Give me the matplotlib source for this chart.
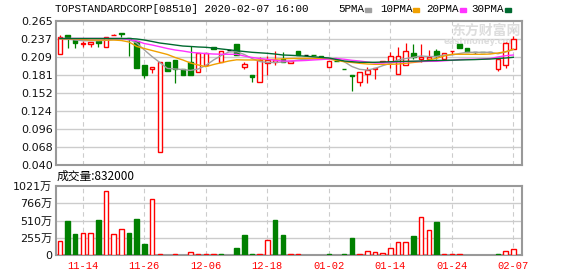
import matplotlib
matplotlib.use("Agg")
import matplotlib.pyplot as plt
from matplotlib.patches import Rectangle

# Trading days shown on the chart
dates = [
    "11-11", "11-12", "11-13", "11-14", "11-15", "11-18", "11-19", "11-20", "11-21", "11-22",
    "11-25", "11-26", "11-27", "11-28", "11-29", "12-02", "12-03", "12-04", "12-05", "12-06",
    "12-09", "12-10", "12-11", "12-12", "12-13", "12-16", "12-17", "12-18", "12-19", "12-20",
    "12-23", "12-24", "12-27", "12-30", "12-31", "01-02", "01-03", "01-06", "01-07", "01-08",
    "01-09", "01-10", "01-13", "01-14", "01-15", "01-16", "01-17", "01-20", "01-21", "01-22",
    "01-23", "01-24", "01-29", "01-30", "01-31", "02-03", "02-04", "02-05", "02-06", "02-07",
]

tick_dates = ["11-14", "11-26", "12-06", "12-18", "01-02", "01-14", "01-24", "02-07"]

opens = [
    0.2130, 0.2431, 0.2353, 0.2294, 0.2295, 0.2342, 0.2239, 0.2427, 0.2463, 0.2377,
    0.2342, 0.1960, 0.1905, 0.0598, 0.2014, 0.2041, 0.1895, 0.2014, 0.1858, 0.1963,
    0.2239, 0.2014, 0.2197, 0.2291, 0.1927, 0.1802, 0.1702, 0.1998, 0.2009, 0.2052,
    0.1989, 0.2181, 0.2119, 0.2122, 0.2103, 0.1931, 0.2028, 0.1903, 0.1806, 0.1702,
    0.1817, 0.1905, 0.2009, 0.2014, 0.1822, 0.1963, 0.2145, 0.2061, 0.2061, 0.2181,
    0.2056, 0.2183, 0.2291, 0.2223, 0.2161, 0.2163, 0.2158, 0.1895, 0.1963, 0.2208,
]

closes = [
    0.2395, 0.2395, 0.2311, 0.2310, 0.2322, 0.2311, 0.2395, 0.2436, 0.2452, 0.2370,
    0.1911, 0.1814, 0.1936, 0.2012, 0.1873, 0.1895, 0.1806, 0.1808, 0.2145, 0.2145,
    0.2217, 0.2186, 0.2197, 0.2119, 0.1978, 0.1780, 0.2041, 0.2041, 0.2041, 0.2009,
    0.2025, 0.2123, 0.2119, 0.2116, 0.2083, 0.2020, 0.2022, 0.1897, 0.1795, 0.1858,
    0.1884, 0.1911, 0.2020, 0.2103, 0.2103, 0.2181, 0.2092, 0.2083, 0.2092, 0.2103,
    0.2145, 0.2186, 0.2233, 0.2161, 0.2161, 0.2158, 0.2158, 0.2052, 0.2302, 0.2364,
]

highs = [
    0.2431, 0.2431, 0.2353, 0.2342, 0.2322, 0.2342, 0.2405, 0.2452, 0.2463, 0.2385,
    0.2342, 0.1960, 0.1936, 0.2012, 0.2014, 0.2041, 0.1895, 0.2259, 0.2145, 0.2145,
    0.2239, 0.2186, 0.2197, 0.2291, 0.2005, 0.1802, 0.2092, 0.2103, 0.2186, 0.2166,
    0.2025, 0.2181, 0.2119, 0.2122, 0.2103, 0.2020, 0.2028, 0.1903, 0.1806, 0.1858,
    0.1936, 0.1911, 0.2020, 0.2161, 0.2239, 0.2302, 0.2291, 0.2291, 0.2197, 0.2208,
    0.2145, 0.2186, 0.2291, 0.2223, 0.2170, 0.2163, 0.2158, 0.2052, 0.2327, 0.2416,
]

lows = [
    0.2130, 0.2233, 0.2233, 0.2236, 0.2248, 0.2239, 0.2239, 0.2427, 0.2405, 0.2108,
    0.1911, 0.1752, 0.1842, 0.0598, 0.1873, 0.1677, 0.1806, 0.1806, 0.1858, 0.1963,
    0.2217, 0.2014, 0.2197, 0.2119, 0.1900, 0.1702, 0.1702, 0.1806, 0.1963, 0.2014,
    0.1989, 0.2123, 0.2119, 0.2116, 0.2083, 0.1931, 0.2022, 0.1897, 0.1561, 0.1639,
    0.1677, 0.1744, 0.2009, 0.1920, 0.1822, 0.1963, 0.2056, 0.2014, 0.2052, 0.2052,
    0.2056, 0.2130, 0.2233, 0.2161, 0.2145, 0.2158, 0.2158, 0.1873, 0.1911, 0.2208,
]

# Moving averages
ma5 = [
    0.2377, 0.2369, 0.2353, 0.2342, 0.2342, 0.2342, 0.2348, 0.2361, 0.2369, 0.2361,
    0.2306, 0.2197, 0.2094, 0.2002, 0.1909, 0.1900, 0.1892, 0.1878, 0.1900, 0.1955,
    0.2041, 0.2111, 0.2166, 0.2170, 0.2127, 0.2064, 0.2017, 0.2002, 0.2002, 0.2009,
    0.2020, 0.2041, 0.2052, 0.2056, 0.2064, 0.2064, 0.2064, 0.2014, 0.1939, 0.1895,
    0.1884, 0.1908, 0.1952, 0.1989, 0.2041, 0.2064, 0.2083, 0.2103, 0.2095, 0.2095,
    0.2119, 0.2119, 0.2142, 0.2161, 0.2161, 0.2161, 0.2161, 0.2138, 0.2166, 0.2205,
]

ma10 = [
    0.2369, 0.2369, 0.2369, 0.2361, 0.2353, 0.2353, 0.2353, 0.2353, 0.2345, 0.2322,
    0.2252, 0.2220, 0.2189, 0.2158, 0.2127, 0.2080, 0.2041, 0.1994, 0.1963, 0.1936,
    0.1970, 0.1998, 0.2025, 0.2044, 0.2041, 0.2041, 0.2041, 0.2048, 0.2053, 0.2059,
    0.2063, 0.2066, 0.2067, 0.2067, 0.2067, 0.2056, 0.2033, 0.2014, 0.2002, 0.1989,
    0.1978, 0.1973, 0.1973, 0.1973, 0.1978, 0.1989, 0.2002, 0.2014, 0.2041, 0.2067,
    0.2103, 0.2130, 0.2130, 0.2130, 0.2130, 0.2130, 0.2134, 0.2150, 0.2170, 0.2208,
]

ma20 = [
    0.2377, 0.2377, 0.2377, 0.2377, 0.2377, 0.2377, 0.2377, 0.2377, 0.2377, 0.2361,
    0.2338, 0.2298, 0.2275, 0.2248, 0.2220, 0.2197, 0.2181, 0.2161, 0.2150, 0.2141,
    0.2134, 0.2131, 0.2130, 0.2130, 0.2103, 0.2080, 0.2064, 0.2052, 0.2036, 0.2025,
    0.2025, 0.2028, 0.2033, 0.2041, 0.2048, 0.2056, 0.2064, 0.2052, 0.2036, 0.2025,
    0.2009, 0.1994, 0.1994, 0.2005, 0.2009, 0.2014, 0.2017, 0.2017, 0.2020, 0.2020,
    0.2028, 0.2036, 0.2048, 0.2052, 0.2052, 0.2056, 0.2064, 0.2088, 0.2108, 0.2119,
]

ma30 = [
    0.2377, 0.2377, 0.2377, 0.2377, 0.2377, 0.2377, 0.2377, 0.2377, 0.2377, 0.2377,
    0.2369, 0.2353, 0.2330, 0.2306, 0.2291, 0.2275, 0.2259, 0.2252, 0.2244, 0.2239,
    0.2228, 0.2213, 0.2200, 0.2186, 0.2173, 0.2161, 0.2153, 0.2145, 0.2134, 0.2119,
    0.2114, 0.2108, 0.2100, 0.2091, 0.2081, 0.2072, 0.2048, 0.2025, 0.2014, 0.2005,
    0.2005, 0.2005, 0.2009, 0.2014, 0.2017, 0.2020, 0.2022, 0.2025, 0.2030, 0.2033,
    0.2036, 0.2038, 0.2041, 0.2044, 0.2047, 0.2052, 0.2056, 0.2064, 0.2072, 0.2083,
]

# Volume in 万 shares, and whether the bar is an "up" (red) bar
volumes = [
    207, 503, 311, 326, 326, 518, 947, 311, 385, 330,
    533, 168, 829, 12, 0, 12, 0, 44, 12, 12,
    12, 12, 0, 104, 296, 12, 12, 222, 518, 296,
    12, 12, 0, 0, 0, 12, 0, 12, 252, 12,
    59, 44, 30, 104, 192, 192, 281, 562, 370, 488,
    12, 12, 12, 0, 0, 0, 0, 12, 59, 83.2,
]

vol_up = [
    1, 0, 0, 1, 1, 0, 1, 1, 1, 0,
    0, 0, 1, 1, 0, 1, 0, 1, 1, 1,
    1, 0, 0, 0, 0, 0, 1, 1, 0, 0,
    1, 1, 0, 0, 0, 0, 0, 0, 0, 1,
    1, 1, 1, 1, 1, 1, 0, 1, 1, 0,
    1, 1, 1, 0, 0, 0, 0, 0, 1, 1,
]

price_ticks = [0.040, 0.068125, 0.09625, 0.124375, 0.1525, 0.180625, 0.20875, 0.236875, 0.265]
price_labels = ["0.040", "0.068", "0.096", "0.124", "0.152", "0.181", "0.209", "0.237", "0.265"]
vol_ticks = [0, 255.25, 510.5, 765.75, 1021]
vol_labels = ["0", "255万", "510万", "766万", "1021万"]

RED = "#ff0000"
GREEN = "#008000"
W, H = 578, 276

fig = plt.figure(figsize=(W / 100, H / 100), dpi=100)
fig.patch.set_facecolor("white")

ax = fig.add_axes([56 / W, 1 - 165 / H, 466 / W, 144 / H])
ax2 = fig.add_axes([56 / W, 1 - 255 / H, 466 / W, 69 / H])

x = list(range(len(dates)))
tick_pos = [dates.index(d) for d in tick_dates]
bw = 0.58

for a in (ax, ax2):
    a.set_xlim(-0.5, 60.13)
    for s in a.spines.values():
        s.set_color("#999999")
        s.set_linewidth(1.5)
    a.set_xticks(tick_pos)
    for p in tick_pos:
        a.axvline(p, color="#cccccc", linestyle=(0, (4, 3)), linewidth=0.8, zorder=0)
    a.tick_params(length=0, pad=2.5, labelsize=8, labelcolor="#111111")

# Price pane
ax.set_ylim(0.040, 0.265)
ax.set_yticks(price_ticks)
ax.set_yticklabels(price_labels)
ax.set_xticklabels([])
for t in price_ticks[1:-1]:
    ax.axhline(t, color="#cccccc", linewidth=1.0, zorder=0)

for i in x:
    o, c, h, l = opens[i], closes[i], highs[i], lows[i]
    top, bot = max(o, c), min(o, c)
    if c > o:
        col = RED
        face = "white"
    elif c < o:
        col = GREEN
        face = GREEN
    else:
        col = "black"
        face = "black"
    if h > top:
        ax.vlines(i, top, h, color=col, linewidth=0.9, zorder=2)
    if l < bot:
        ax.vlines(i, l, bot, color=col, linewidth=0.9, zorder=2)
    if c == o:
        ax.hlines(c, i - bw / 2, i + bw / 2, color=col, linewidth=1.0, zorder=3)
    else:
        ax.bar(i, top - bot, bottom=bot, width=bw, facecolor=face,
               edgecolor=col, linewidth=1.0, zorder=3)

# Moving average lines
ax.plot(x, ma5, color="#a0a0a0", linewidth=1.0, zorder=4)
ax.plot(x, ma10, color="#f0a000", linewidth=1.0, zorder=4)
ax.plot(x, ma20, color="#ff33ff", linewidth=1.0, zorder=4)
ax.plot(x, ma30, color="#006a30", linewidth=1.0, zorder=4)

# Watermark
ax.text(486 / W, 1 - 31 / H, "东方财富网", transform=fig.transFigure,
        family=["Noto Sans CJK SC"], fontsize=10, fontweight="bold",
        color="#dddddd", ha="center", va="center", zorder=1)
ax.text(481 / W, 1 - 41.5 / H, "eastmoney.com", transform=fig.transFigure,
        fontsize=6, fontweight="bold", color="#dddddd",
        ha="center", va="center", zorder=1)

# Volume pane
ax2.set_ylim(0, 1021)
ax2.set_yticks(vol_ticks)
ax2.set_yticklabels(vol_labels, family=["DejaVu Sans", "Noto Sans CJK SC"])
for t in vol_ticks[1:-1]:
    ax2.axhline(t, color="#cccccc", linewidth=1.0, zorder=0)

for i in x:
    if volumes[i] <= 0:
        continue
    if vol_up[i]:
        ax2.bar(i, volumes[i], width=bw, facecolor="white", edgecolor=RED,
                linewidth=1.0, zorder=3)
    else:
        ax2.bar(i, volumes[i], width=bw, facecolor=GREEN, edgecolor=GREEN,
                linewidth=1.0, zorder=3)

ax2.set_xticklabels(tick_dates, family="Liberation Mono", fontsize=7.5, color=RED)
ax2.tick_params(axis="x", pad=4)

# Header texts
fig.text(55 / W, 1 - 9 / H, "TOPSTANDARDCORP[08510] 2020-02-07 16:00",
         family="Liberation Mono", fontsize=7.8, ha="left", va="center")

legend_items = [
    ("5PMA", 338, 365, "#a0a0a0"),
    ("10PMA", 380, 413, "#f0a000"),
    ("20PMA", 426, 460, "#ff33ff"),
    ("30PMA", 471, 505, "#006a30"),
]
for name, tx, sx, col in legend_items:
    fig.text(tx / W, 1 - 9 / H, name, family="Liberation Mono",
             fontsize=7.8, ha="left", va="center")
    fig.add_artist(Rectangle((sx / W, 1 - 11.5 / H), 6 / W, 3 / H,
                             transform=fig.transFigure, color=col))

fig.text(57 / W, 1 - 176.5 / H, "成交量:832000",
         family=["Noto Sans CJK SC", "DejaVu Sans"], fontsize=8.5,
         ha="left", va="center")

plt.savefig("out.png", dpi=100)
